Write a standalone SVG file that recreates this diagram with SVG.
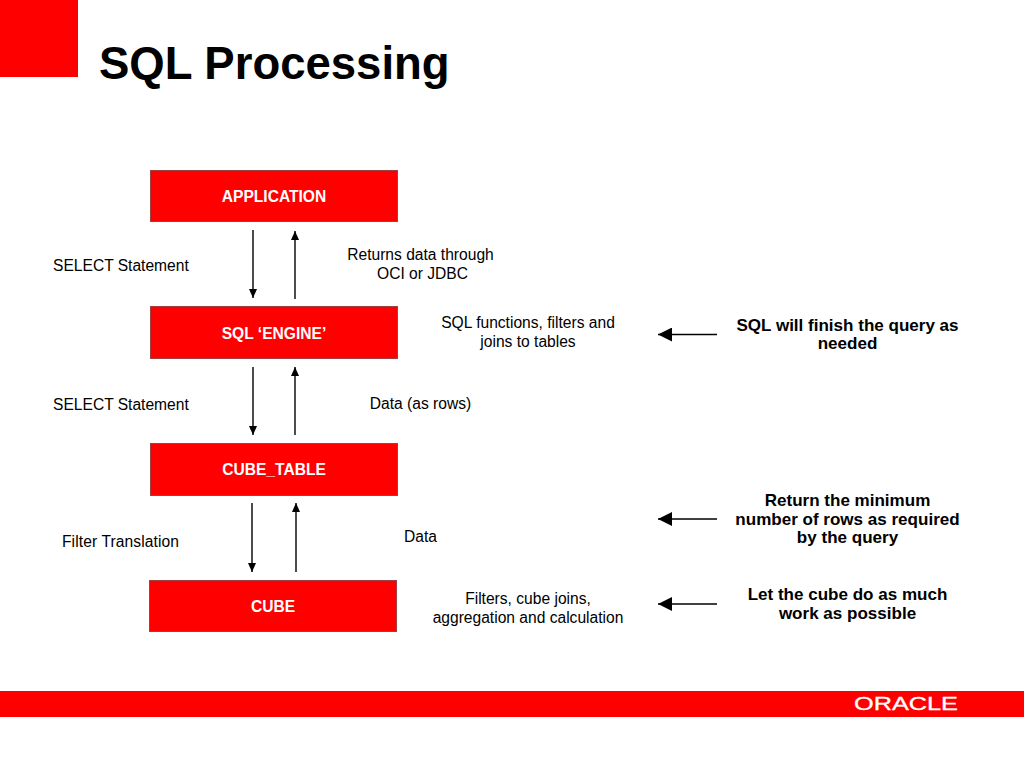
<svg xmlns="http://www.w3.org/2000/svg" width="1024" height="768" viewBox="0 0 1024 768">
<style>
text{font-family:"Liberation Sans",Arial,sans-serif;fill:#000}
.t{font-size:15.6px;text-anchor:middle}
.l{font-size:15.6px}
.b{font-size:17.05px;font-weight:bold;text-anchor:middle}
.n{font-size:15.6px;font-weight:bold;text-anchor:middle;fill:#fff}
.box{fill:#f00;stroke:#a04040;stroke-width:1}
.c line{stroke:#000;stroke-width:1.4;fill:none}
</style>
<defs>
<marker id="a" markerUnits="userSpaceOnUse" markerWidth="9" markerHeight="9" refX="9" refY="4" orient="auto"><path d="M0 0L9 4L0 8Z" fill="#000"/></marker>
<marker id="big" markerUnits="userSpaceOnUse" markerWidth="14" markerHeight="14" refX="14" refY="7" orient="auto"><path d="M0 0L14 7L0 14Z" fill="#000"/></marker>
</defs>
<rect width="1024" height="768" fill="#fff"/>
<rect id="corner" x="0" y="0" width="78" height="77" fill="#f00"/>
<text x="99" y="78.500" style="font-size:45.5px;font-weight:bold">SQL Processing</text>
<g id="application"><rect class="box" x="150.500" y="170.500" width="247" height="51"/><text class="n" x="274" y="201.500">APPLICATION</text></g>
<g id="sql-engine"><rect class="box" x="150.500" y="306.500" width="247" height="52"/><text class="n" x="274" y="338.500">SQL ‘ENGINE’</text></g>
<g id="cube-table"><rect class="box" x="150.500" y="443.500" width="247" height="52"/><text class="n" x="274" y="475">CUBE_TABLE</text></g>
<g id="cube"><rect class="box" x="149.500" y="580.500" width="247" height="51"/><text class="n" x="273" y="611.500">CUBE</text></g>
<g id="connectors" class="c">
<line x1="253" y1="230" x2="253" y2="298" marker-end="url(#a)"/>
<line x1="295" y1="299" x2="295" y2="231" marker-end="url(#a)"/>
<line x1="253" y1="367" x2="253" y2="435" marker-end="url(#a)"/>
<line x1="295" y1="435" x2="295" y2="367" marker-end="url(#a)"/>
<line x1="252" y1="503" x2="252" y2="572" marker-end="url(#a)"/>
<line x1="296" y1="572" x2="296" y2="503" marker-end="url(#a)"/>
<line x1="717" y1="334.500" x2="658" y2="334.500" marker-end="url(#big)"/>
<line x1="717" y1="519" x2="658" y2="519" marker-end="url(#big)"/>
<line x1="717" y1="604" x2="658" y2="604" marker-end="url(#big)"/>
</g>
<g id="labels">
<text class="l" x="53" y="270.500">SELECT Statement</text>
<text class="l" x="53" y="409.500">SELECT Statement</text>
<text class="l" x="62" y="546.500" textLength="117">Filter Translation</text>
<text class="t" x="420.500" y="259.500">Returns data through</text>
<text class="t" x="422.500" y="278.500">OCI or JDBC</text>
<text class="t" x="528" y="327.500">SQL functions, filters and</text>
<text class="t" x="528" y="346.500">joins to tables</text>
<text class="t" x="420.500" y="408.500">Data (as rows)</text>
<text class="t" x="420.500" y="541.500">Data</text>
<text class="t" x="528" y="603.500">Filters, cube joins,</text>
<text class="t" x="528" y="622.500">aggregation and calculation</text>
<text class="b" x="847.500" y="330.500">SQL will finish the query as</text>
<text class="b" x="847.500" y="349">needed</text>
<text class="b" x="847.500" y="506">Return the minimum</text>
<text class="b" x="847.500" y="525">number of rows as required</text>
<text class="b" x="847.500" y="543">by the query</text>
<text class="b" x="847.500" y="600">Let the cube do as much</text>
<text class="b" x="847.500" y="618.500">work as possible</text>
</g>
<g id="footer">
<rect x="0" y="691" width="1024" height="26" fill="#f00"/>
<text x="854" y="710" style="font-size:18px;fill:#fff;stroke:#fff;stroke-width:.3px" textLength="104" lengthAdjust="spacingAndGlyphs">ORACLE</text>
</g>
</svg>
